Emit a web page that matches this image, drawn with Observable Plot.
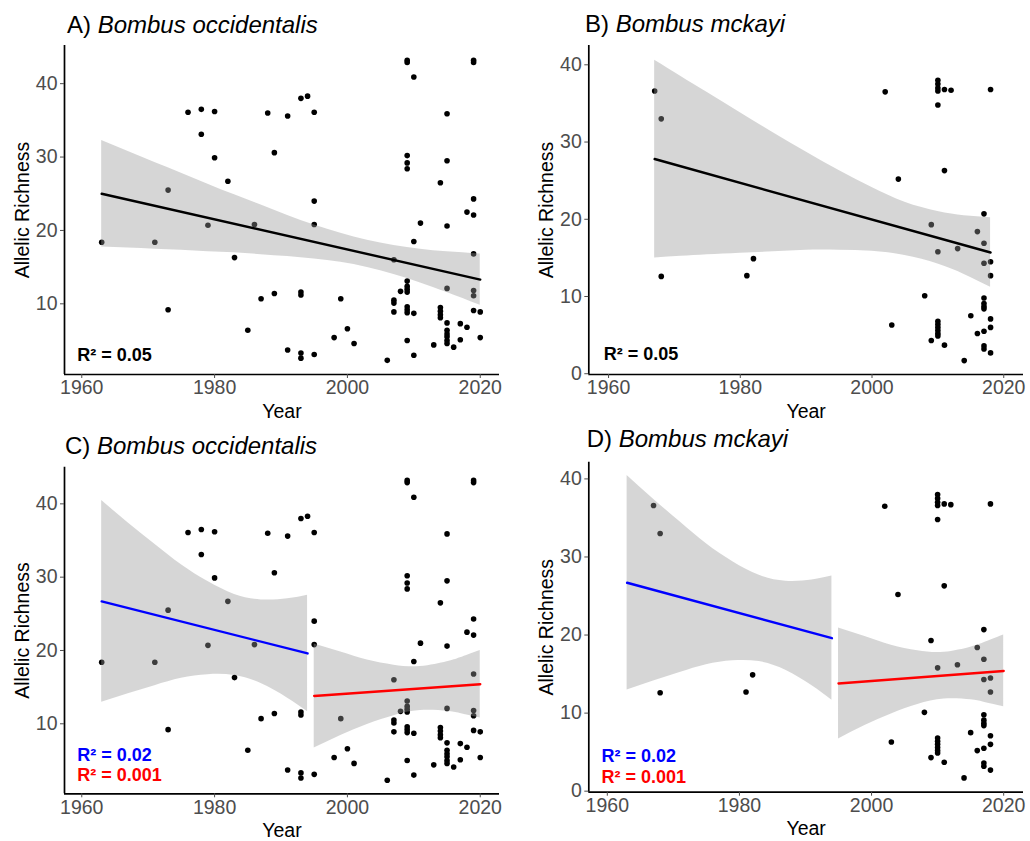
<!DOCTYPE html>
<html>
<head>
<meta charset="utf-8">
<script src="https://cdn.jsdelivr.net/npm/d3@7"></script>
<script src="https://cdn.jsdelivr.net/npm/@observablehq/plot@0.6"></script>
<style>
  html, body { margin: 0; padding: 0; background: #ffffff; }
  #fig { position: relative; width: 1030px; height: 841px; overflow: hidden; font-family: "Liberation Sans", Arial, sans-serif; }
  .panel { position: absolute; }
  .title { position: absolute; font-size: 24px; line-height: 24px; color: #000; white-space: nowrap; }
</style>
</head>
<body>
<div id="fig"></div>
<script>
// ---------- data ----------
const occYear = [
  1963, 1971, 1973, 1973, 1976, 1978, 1978, 1979, 1980, 1980,
  1982, 1983, 1985, 1986, 1987, 1988, 1989, 1989, 1991, 1991,
  1993, 1993, 1993, 1993, 1993, 1994, 1995, 1995, 1995, 1995,
  1998, 1999, 2000, 2001, 2006, 2007, 2007, 2007, 2007, 2008,
  2009, 2009, 2009, 2009, 2009, 2009, 2009, 2009, 2009, 2009, 2009, 2009, 2009,
  2010, 2010, 2010, 2010, 2011, 2013,
  2014, 2014, 2014, 2014, 2014,
  2015, 2015, 2015, 2015, 2015, 2015, 2015, 2015, 2015, 2015,
  2016, 2017, 2017, 2018, 2018,
  2019, 2019, 2019, 2019, 2019, 2019, 2019, 2019,
  2020, 2020
];
const occValue = [
  18.4, 18.4, 25.5, 9.2, 36.1, 36.5, 33.1, 20.7, 36.2, 29.9,
  26.7, 16.3, 6.4, 20.8, 10.7, 36.0, 30.6, 11.4, 35.6, 3.7,
  38.0, 11.6, 11.2, 3.3, 2.6, 38.3, 36.1, 24.0, 20.8, 3.1,
  5.4, 10.7, 6.6, 4.6, 2.3, 16.0, 10.5, 10.1, 8.9, 11.7,
  43.2, 42.9, 30.2, 29.2, 28.4, 13.1, 12.4, 12.0, 11.6, 9.6, 9.2, 8.8, 5.0,
  40.9, 18.5, 8.7, 3.0, 21.0, 4.4,
  26.5, 9.5, 9.0, 8.5, 8.1,
  35.9, 29.5, 20.6, 12.1, 7.4, 6.4, 5.9, 5.5, 5.0, 4.6,
  4.1, 7.3, 5.1, 22.5, 6.8,
  43.2, 42.9, 24.3, 22.1, 16.8, 11.8, 11.1, 9.1,
  8.9, 5.4
];
const mckYear = [
  1967, 1968, 1968, 1981, 1982, 2002, 2003, 2004, 2008, 2009, 2009,
  2010, 2010, 2010, 2010, 2010, 2010, 2010, 2010, 2010, 2010, 2010, 2010,
  2011, 2011, 2011, 2012, 2013, 2014, 2015, 2016, 2016,
  2017, 2017, 2017, 2017, 2017, 2017, 2017, 2017, 2017, 2017,
  2018, 2018, 2018, 2018, 2018, 2018
];
const mckValue = [
  36.6, 33.0, 12.6, 12.7, 14.9, 36.5, 6.3, 25.2, 10.1, 19.3, 4.3,
  38.0, 37.5, 37.0, 36.6, 34.8, 15.8, 6.8, 6.4, 6.0, 5.6, 5.2, 4.9,
  36.8, 26.3, 3.7, 36.7, 16.2, 1.7, 7.5, 18.4, 5.2,
  20.7, 16.9, 14.3, 9.8, 9.1, 8.7, 8.4, 5.5, 3.6, 3.2,
  36.8, 14.5, 12.7, 7.1, 6.0, 2.7
];

// single-trend fits (panels A, B): line ends and confidence band
const fitAYear = [1963, 2020];
const fitAValue = [25.0, 13.3];
const bandAYear = [1963, 1967, 1971, 1975, 1979, 1983, 1987, 1991, 1995, 1999, 2003, 2007, 2011, 2015, 2020];
const bandALow  = [17.75, 17.6, 17.45, 17.3, 17.1, 16.95, 16.7, 16.45, 16.1, 15.65, 14.95, 14.0, 12.85, 11.55, 9.8];
const bandAHigh = [32.25, 30.75, 29.25, 27.8, 26.3, 24.85, 23.45, 22.05, 20.75, 19.6, 18.65, 17.95, 17.45, 17.1, 16.8];

const fitBYear = [1967, 2018];
const fitBValue = [27.8, 15.7];
const bandBYear = [1967, 1971, 1975, 1980, 1985, 1990, 1995, 2000, 2005, 2010, 2014, 2018];
const bandBLow  = [15.0, 15.2, 15.4, 15.6, 15.8, 16.0, 16.0, 15.85, 15.3, 14.2, 12.85, 11.2];
const bandBHigh = [40.6, 38.5, 36.4, 33.8, 31.2, 28.7, 26.3, 24.1, 22.2, 21.0, 20.45, 20.2];

// split-period fits (panels C, D): before 1995 (blue), from 1995 (red)
const fitEarlyYear = [1963, 1994];
const fitEarlyValue = [26.7, 19.6];
const bandEarlyYear = [1963, 1967, 1971, 1975, 1979, 1983, 1987, 1991, 1994];
const bandEarlyLow  = [12.95, 14.1, 15.2, 16.2, 16.7, 16.6, 15.5, 13.5, 11.65];
const bandEarlyHigh = [40.45, 37.4, 34.5, 31.7, 29.4, 27.65, 26.9, 27.05, 27.55];

const fitLateYear = [1995, 2020];
const fitLateValue = [13.8, 15.4];
const bandLateYear = [1995, 1999, 2003, 2007, 2011, 2015, 2017, 2020];
const bandLateLow  = [6.7, 8.4, 9.9, 11.1, 11.8, 11.7, 11.4, 10.8];
const bandLateHigh = [20.9, 19.8, 18.7, 18.0, 17.8, 18.45, 19.0, 20.0];

const panelLetters = ["A)", "B)", "C)", "D)"];
const panelSpecies = ["Bombus occidentalis", "Bombus mckayi", "Bombus occidentalis", "Bombus mckayi"];
const xTicks = [1960, 1980, 2000, 2020];
const yTicksOcc = [10, 20, 30, 40];
const yTicksMck = [0, 10, 20, 30, 40];
const r2Single = ["R\u00B2 = 0.05"];
const r2Early = ["R\u00B2 = 0.02"];
const r2Late = ["R\u00B2 = 0.001"];
const xLabel = "Year";
const yLabel = "Allelic Richness";

// ---------- helpers ----------
const pts = (ys, vs) => ys.map((y, i) => ({year: y, value: vs[i]}));
const line = (ys, vs) => ys.map((y, i) => ({year: y, value: vs[i]}));
const band = (ys, lo, hi) => ys.map((y, i) => ({year: y, lo: lo[i], hi: hi[i]}));

const FONT = "'Liberation Sans', Arial, Helvetica, sans-serif";
const BLUE = "#0000ff", RED = "#ff0000";

function makePanel(cfg) {
  const marks = [];
  marks.push(Plot.dot(cfg.points, {x: "year", y: "value", r: 2.8, fill: "#000000", stroke: "none"}));
  for (const f of cfg.fits) {
    marks.push(Plot.areaY(f.band, {x: "year", y1: "lo", y2: "hi", fill: "#999999", fillOpacity: 0.4, curve: "natural"}));
  }
  for (const f of cfg.fits) {
    marks.push(Plot.line(f.line, {x: "year", y: "value", stroke: f.color, strokeWidth: 2.4}));
  }
  marks.push(Plot.ruleX([cfg.xDomain[0]], {stroke: "#000000", strokeWidth: 1.7}));
  marks.push(Plot.ruleY([cfg.yDomain[0]], {stroke: "#000000", strokeWidth: 1.7}));
  marks.push(Plot.axisX({ticks: xTicks, tickFormat: d => String(d), tickSize: 4, tickPadding: 2,
    fontSize: 19.5, label: null, color: "#4d4d4d"}));
  marks.push(Plot.axisY({ticks: cfg.yTicks, tickFormat: d => String(d), tickSize: 4, tickPadding: 3,
    fontSize: 19.5, label: null, color: "#4d4d4d"}));
  marks.push(Plot.text([xLabel], {text: d => d, frameAnchor: "bottom", textAnchor: "middle", lineAnchor: "bottom",
    dy: 43, fontSize: 19.5, fill: "#000000"}));
  marks.push(Plot.text([yLabel], {text: d => d, frameAnchor: "left", textAnchor: "middle", rotate: -90, lineAnchor: "middle",
    dx: -42, fontSize: 19.5, fill: "#000000"}));
  for (const r of cfg.r2) {
    marks.push(Plot.text(r.text, {text: d => d, frameAnchor: "bottom-left", textAnchor: "start",
      lineAnchor: "bottom", dx: r.dx, dy: r.dy, fontSize: 18, fontWeight: "bold", fill: r.color}));
  }
  return Plot.plot({
    width: cfg.width, height: cfg.height,
    marginLeft: cfg.mL, marginRight: cfg.mR, marginTop: cfg.mT, marginBottom: cfg.mB,
    x: {domain: cfg.xDomain},
    y: {domain: cfg.yDomain},
    style: {fontFamily: FONT, background: "transparent", overflow: "visible", color: "#000000"},
    marks
  });
}

const occPts = pts(occYear, occValue);
const mckPts = pts(mckYear, mckValue);

const panels = [
  { left: 0, top: 40, width: 515, height: 380, mL: 64, mR: 16, mT: 5, mB: 46,
    xDomain: [1957.4, 2022.9], yDomain: [0.37, 45.2], yTicks: yTicksOcc, points: occPts,
    fits: [{line: line(fitAYear, fitAValue), band: band(bandAYear, bandALow, bandAHigh), color: "#000000"}],
    r2: [{text: r2Single, color: "#000000", dx: 12.7, dy: -13.3}],
    titleLeft: 67, titleTop: 13 },
  { left: 515, top: 40, width: 515, height: 380, mL: 73.3, mR: 7, mT: 5, mB: 46,
    xDomain: [1957.0, 2023.0], yDomain: [-0.1, 42.5], yTicks: yTicksMck, points: mckPts,
    fits: [{line: line(fitBYear, fitBValue), band: band(bandBYear, bandBLow, bandBHigh), color: "#000000"}],
    r2: [{text: r2Single, color: "#000000", dx: 15, dy: -14.7}],
    titleLeft: 585, titleTop: 12 },
  { left: 0, top: 460, width: 515, height: 381, mL: 64, mR: 16, mT: 6.7, mB: 47.7,
    xDomain: [1957.4, 2022.9], yDomain: [0.45, 45.0], yTicks: yTicksOcc, points: occPts,
    fits: [{line: line(fitEarlyYear, fitEarlyValue), band: band(bandEarlyYear, bandEarlyLow, bandEarlyHigh), color: BLUE},
           {line: line(fitLateYear, fitLateValue), band: band(bandLateYear, bandLateLow, bandLateHigh), color: RED}],
    r2: [{text: r2Early, color: BLUE, dx: 12.7, dy: -33.3}, {text: r2Late, color: RED, dx: 12.7, dy: -12.6}],
    titleLeft: 65, titleTop: 434 },
  { left: 515, top: 460, width: 515, height: 381, mL: 73.3, mR: 7, mT: 1.7, mB: 49.3,
    xDomain: [1957.2, 2023.0], yDomain: [-0.13, 42.14], yTicks: yTicksMck, points: mckPts,
    fits: [{line: line(fitEarlyYear, fitEarlyValue), band: band(bandEarlyYear, bandEarlyLow, bandEarlyHigh), color: BLUE},
           {line: line(fitLateYear, fitLateValue), band: band(bandLateYear, bandLateLow, bandLateHigh), color: RED}],
    r2: [{text: r2Early, color: BLUE, dx: 12.7, dy: -30}, {text: r2Late, color: RED, dx: 12.7, dy: -9}],
    titleLeft: 586.7, titleTop: 427 }
];

const fig = document.getElementById("fig");
panels.forEach((cfg, i) => {
  const holder = document.createElement("div");
  holder.className = "panel";
  holder.style.left = cfg.left + "px";
  holder.style.top = cfg.top + "px";
  holder.appendChild(makePanel(cfg));
  fig.appendChild(holder);

  const t = document.createElement("div");
  t.className = "title";
  t.style.left = cfg.titleLeft + "px";
  t.style.top = cfg.titleTop + "px";
  t.appendChild(document.createTextNode(panelLetters[i] + " "));
  const it = document.createElement("i");
  it.textContent = panelSpecies[i];
  t.appendChild(it);
  fig.appendChild(t);
});
</script>
</body>
</html>
